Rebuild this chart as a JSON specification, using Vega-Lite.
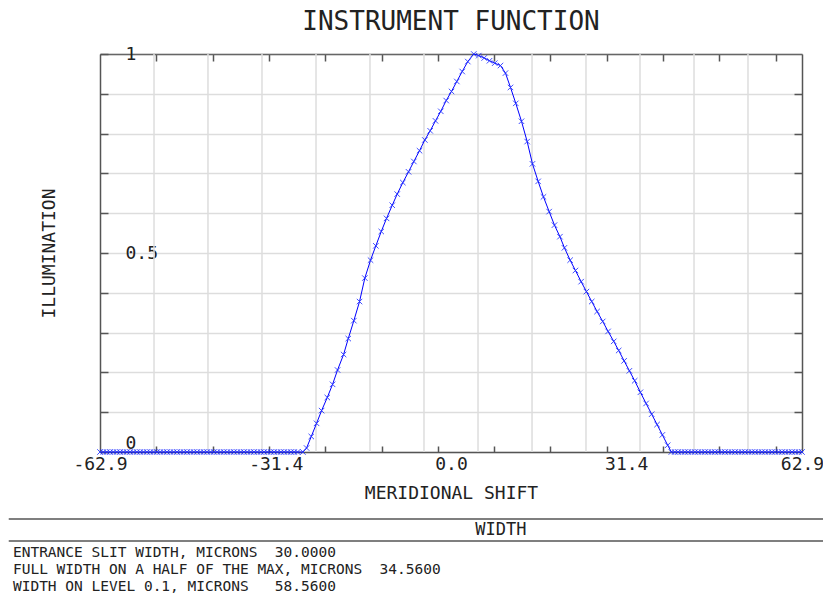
{
  "$schema": "https://vega.github.io/schema/vega-lite/v6.json",
  "padding": {"left": 7, "top": 9, "right": 0, "bottom": 0},
  "spacing": 16,
  "config": {"view": {"stroke": null}, "font": "DejaVu Sans Mono"},
  "datasets": {
    "vgrid": [{"g": -53.22}, {"g": -43.55}, {"g": -33.87}, {"g": -24.19}, {"g": -14.52}, {"g": -4.84}, {"g": 4.84}, {"g": 14.52}, {"g": 24.19}, {"g": 33.87}, {"g": 43.55}, {"g": 53.22}],
    "curve": [
      {"x": -62.9, "y": 0}, {"x": -62.3, "y": 0}, {"x": -61.7, "y": 0}, {"x": -61.1, "y": 0}, {"x": -60.5, "y": 0}, {"x": -59.9, "y": 0}, {"x": -59.3, "y": 0}, {"x": -58.7, "y": 0}, {"x": -58.1, "y": 0}, {"x": -57.5, "y": 0},
      {"x": -56.9, "y": 0}, {"x": -56.3, "y": 0}, {"x": -55.7, "y": 0}, {"x": -55.1, "y": 0}, {"x": -54.5, "y": 0}, {"x": -53.9, "y": 0}, {"x": -53.3, "y": 0}, {"x": -52.7, "y": 0}, {"x": -52.1, "y": 0}, {"x": -51.5, "y": 0},
      {"x": -50.9, "y": 0}, {"x": -50.3, "y": 0}, {"x": -49.7, "y": 0}, {"x": -49.1, "y": 0}, {"x": -48.5, "y": 0}, {"x": -47.9, "y": 0}, {"x": -47.3, "y": 0}, {"x": -46.7, "y": 0}, {"x": -46.1, "y": 0}, {"x": -45.5, "y": 0},
      {"x": -44.9, "y": 0}, {"x": -44.3, "y": 0}, {"x": -43.7, "y": 0}, {"x": -43.1, "y": 0}, {"x": -42.5, "y": 0}, {"x": -41.9, "y": 0}, {"x": -41.3, "y": 0}, {"x": -40.7, "y": 0}, {"x": -40.1, "y": 0}, {"x": -39.5, "y": 0},
      {"x": -38.9, "y": 0}, {"x": -38.3, "y": 0}, {"x": -37.7, "y": 0}, {"x": -37.1, "y": 0}, {"x": -36.5, "y": 0}, {"x": -35.9, "y": 0}, {"x": -35.3, "y": 0}, {"x": -34.7, "y": 0}, {"x": -34.1, "y": 0}, {"x": -33.5, "y": 0},
      {"x": -32.9, "y": 0}, {"x": -32.3, "y": 0}, {"x": -31.7, "y": 0}, {"x": -31.1, "y": 0}, {"x": -30.5, "y": 0}, {"x": -29.9, "y": 0}, {"x": -29.3, "y": 0}, {"x": -28.7, "y": 0}, {"x": -28.1, "y": 0}, {"x": -27.5, "y": 0},
      {"x": -26.54, "y": 0}, {"x": -25.88, "y": 0.010}, {"x": -25.04, "y": 0.039}, {"x": -24.09, "y": 0.072}, {"x": -23.19, "y": 0.104}, {"x": -22.17, "y": 0.137}, {"x": -21.22, "y": 0.170}, {"x": -20.33, "y": 0.206}, {"x": -19.25, "y": 0.245}, {"x": -18.41, "y": 0.285},
      {"x": -17.41, "y": 0.330}, {"x": -16.39, "y": 0.378}, {"x": -15.44, "y": 0.437}, {"x": -14.42, "y": 0.482}, {"x": -13.47, "y": 0.518}, {"x": -12.50, "y": 0.554}, {"x": -11.55, "y": 0.587}, {"x": -10.53, "y": 0.620}, {"x": -9.64, "y": 0.648}, {"x": -8.63, "y": 0.677},
      {"x": -7.61, "y": 0.704}, {"x": -6.66, "y": 0.730}, {"x": -5.64, "y": 0.757}, {"x": -4.69, "y": 0.784}, {"x": -3.73, "y": 0.807}, {"x": -2.78, "y": 0.832}, {"x": -1.83, "y": 0.856}, {"x": -0.86, "y": 0.883}, {"x": 0.09, "y": 0.906}, {"x": 1.04, "y": 0.931},
      {"x": 2.01, "y": 0.956}, {"x": 3.01, "y": 0.981}, {"x": 4.08, "y": 1.0}, {"x": 4.98, "y": 0.996}, {"x": 5.95, "y": 0.990}, {"x": 6.90, "y": 0.983}, {"x": 7.84, "y": 0.977}, {"x": 8.87, "y": 0.971}, {"x": 9.76, "y": 0.952}, {"x": 10.66, "y": 0.916},
      {"x": 11.61, "y": 0.876}, {"x": 12.63, "y": 0.831}, {"x": 13.65, "y": 0.780}, {"x": 14.60, "y": 0.724}, {"x": 15.62, "y": 0.680}, {"x": 16.57, "y": 0.641}, {"x": 17.59, "y": 0.604}, {"x": 18.54, "y": 0.570}, {"x": 19.52, "y": 0.541}, {"x": 20.33, "y": 0.513},
      {"x": 21.35, "y": 0.482}, {"x": 22.30, "y": 0.456}, {"x": 23.32, "y": 0.428}, {"x": 24.27, "y": 0.403}, {"x": 25.22, "y": 0.378}, {"x": 26.18, "y": 0.353}, {"x": 27.19, "y": 0.328}, {"x": 28.15, "y": 0.303}, {"x": 29.16, "y": 0.278}, {"x": 30.05, "y": 0.255},
      {"x": 31.02, "y": 0.229}, {"x": 31.97, "y": 0.204}, {"x": 32.92, "y": 0.179}, {"x": 33.94, "y": 0.150}, {"x": 34.96, "y": 0.122}, {"x": 35.96, "y": 0.095}, {"x": 36.93, "y": 0.069}, {"x": 37.88, "y": 0.043}, {"x": 38.83, "y": 0.017}, {"x": 39.49, "y": 0},
      {"x": 40.1, "y": 0}, {"x": 40.7, "y": 0}, {"x": 41.3, "y": 0}, {"x": 41.9, "y": 0}, {"x": 42.5, "y": 0}, {"x": 43.1, "y": 0}, {"x": 43.7, "y": 0}, {"x": 44.3, "y": 0}, {"x": 44.9, "y": 0}, {"x": 45.5, "y": 0},
      {"x": 46.1, "y": 0}, {"x": 46.7, "y": 0}, {"x": 47.3, "y": 0}, {"x": 47.9, "y": 0}, {"x": 48.5, "y": 0}, {"x": 49.1, "y": 0}, {"x": 49.7, "y": 0}, {"x": 50.3, "y": 0}, {"x": 50.9, "y": 0}, {"x": 51.5, "y": 0},
      {"x": 52.1, "y": 0}, {"x": 52.7, "y": 0}, {"x": 53.3, "y": 0}, {"x": 53.9, "y": 0}, {"x": 54.5, "y": 0}, {"x": 55.1, "y": 0}, {"x": 55.7, "y": 0}, {"x": 56.3, "y": 0}, {"x": 56.9, "y": 0}, {"x": 57.5, "y": 0},
      {"x": 58.1, "y": 0}, {"x": 58.7, "y": 0}, {"x": 59.3, "y": 0}, {"x": 59.9, "y": 0}, {"x": 60.5, "y": 0}, {"x": 61.1, "y": 0}, {"x": 61.7, "y": 0}, {"x": 62.3, "y": 0}, {"x": 62.9, "y": 0}
    ]
  },
  "vconcat": [
    {
      "width": 702,
      "height": 398,
      "title": {"text": "INSTRUMENT FUNCTION", "font": "DejaVu Sans Mono", "fontSize": 26, "fontWeight": "normal", "color": "#222222", "anchor": "middle", "frame": "group", "offset": 10},
      "layer": [
        {
          "data": {"name": "vgrid"},
          "mark": {"type": "rule", "color": "#dddddd", "strokeWidth": 1.5},
          "encoding": {
            "x": {
              "field": "g", "type": "quantitative",
              "scale": {"domain": [-62.9, 62.9], "nice": false, "zero": false},
              "axis": {
                "orient": "bottom", "values": [-62.9, -31.4, 0, 31.4, 62.9],
                "labelExpr": "datum.value < -50 ? '-62.9' : datum.value < -20 ? '-31.4' : datum.value < 10 ? '0.0' : datum.value < 40 ? '31.4' : '62.9'",
                "grid": false, "ticks": false, "domain": false,
                "labelFlush": false, "labelOverlap": false,
                "labelFont": "DejaVu Sans Mono", "labelFontSize": 18, "labelColor": "#222222", "labelPadding": 3,
                "title": "MERIDIONAL SHIFT", "titleFont": "DejaVu Sans Mono", "titleFontSize": 18, "titleFontWeight": "normal", "titleColor": "#222222", "titlePadding": 11
              }
            }
          }
        },
        {
          "data": {"name": "curve"},
          "mark": {"type": "line", "color": "#0000ff", "strokeWidth": 1},
          "encoding": {
            "x": {
              "field": "x", "type": "quantitative",
              "axis": {
                "orient": "bottom", "values": [-52.81, -42.72, -32.63, -22.54, -12.45, -2.36, 7.73, 17.82, 27.91, 38.0, 48.09, 58.18],
                "labels": false, "grid": false, "title": null,
                "domain": true, "domainColor": "#555555", "domainWidth": 1.5,
                "ticks": true, "tickSize": -6, "tickColor": "#555555", "tickWidth": 1.5
              }
            },
            "y": {
              "field": "y", "type": "quantitative",
              "scale": {"domain": [0, 1], "nice": false, "zero": false},
              "axis": {
                "orient": "left", "values": [0, 0.1, 0.2, 0.3, 0.4, 0.5, 0.6, 0.7, 0.8, 0.9, 1],
                "labelExpr": "datum.value === 0 ? '0' : datum.value === 0.5 ? '0.5' : datum.value === 1 ? '1' : ''",
                "grid": true, "gridColor": "#dddddd", "gridWidth": 1.5,
                "domain": true, "domainColor": "#555555", "domainWidth": 1.5,
                "ticks": true, "tickSize": -8, "tickColor": "#555555", "tickWidth": 1.5,
                "labelAlign": "left", "labelPadding": -17,
                "labelBaseline": {"condition": {"test": "datum.value === 0", "value": "bottom"}, "value": "middle"},
                "labelFlush": false, "labelOverlap": false,
                "labelFont": "DejaVu Sans Mono", "labelFontSize": 18, "labelColor": "#222222",
                "title": "ILLUMINATION", "titleFont": "DejaVu Sans Mono", "titleFontSize": 18, "titleFontWeight": "normal", "titleColor": "#222222", "titlePadding": 41
              }
            }
          }
        },
        {
          "data": {"name": "curve"},
          "mark": {"type": "point", "shape": "M-1,-1L1,1M-1,1L1,-1", "size": 30, "filled": false, "color": "#2030ff", "strokeWidth": 1, "opacity": 0.85},
          "encoding": {
            "x": {
              "field": "x", "type": "quantitative",
              "axis": {
                "orient": "top", "values": [-52.81, -42.72, -32.63, -22.54, -12.45, -2.36, 7.73, 17.82, 27.91, 38.0, 48.09, 58.18],
                "labels": false, "grid": false, "title": null,
                "domain": true, "domainColor": "#666666", "domainWidth": 1.5,
                "ticks": true, "tickSize": -7, "tickColor": "#555555", "tickWidth": 1.5
              }
            },
            "y": {
              "field": "y", "type": "quantitative",
              "axis": {
                "orient": "right", "values": [0.1, 0.2, 0.3, 0.4, 0.5, 0.6, 0.7, 0.8, 0.9],
                "labels": false, "grid": false, "title": null,
                "domain": true, "domainColor": "#555555", "domainWidth": 1.5,
                "ticks": true, "tickSize": -8, "tickColor": "#555555", "tickWidth": 1.5
              }
            }
          }
        }
      ],
      "resolve": {"axis": {"x": "independent", "y": "independent"}}
    },
    {
      "width": 702,
      "height": 78,
      "layer": [
        {
          "data": {"values": [{"row": 0, "from": -0.13, "to": 1.03}, {"row": 1.34, "from": -0.13, "to": 1.03}]},
          "mark": {"type": "rule", "color": "#555555", "strokeWidth": 1.5},
          "encoding": {
            "x": {"field": "from", "type": "quantitative", "scale": {"domain": [0, 1], "nice": false, "zero": false}, "axis": null},
            "x2": {"field": "to"},
            "y": {"field": "row", "type": "quantitative", "scale": {"domain": [0, 4.75], "reverse": true, "nice": false, "zero": false}, "axis": null}
          }
        },
        {
          "data": {"values": [{"row": 0.67, "col": 0.571, "text": "WIDTH"}]},
          "mark": {"type": "text", "align": "center", "baseline": "middle", "font": "DejaVu Sans Mono", "fontSize": 17, "color": "#222222"},
          "encoding": {
            "x": {"field": "col", "type": "quantitative", "axis": null},
            "y": {"field": "row", "type": "quantitative", "axis": null},
            "text": {"field": "text"}
          }
        },
        {
          "data": {"values": [
            {"row": 2.07, "col": -0.124, "text": "ENTRANCE SLIT WIDTH, MICRONS\u00a0\u00a030.0000"},
            {"row": 3.11, "col": -0.124, "text": "FULL WIDTH ON A HALF OF THE MAX, MICRONS\u00a0\u00a034.5600"},
            {"row": 4.15, "col": -0.124, "text": "WIDTH ON LEVEL 0.1, MICRONS\u00a0\u00a0\u00a058.5600"}
          ]},
          "mark": {"type": "text", "align": "left", "baseline": "middle", "font": "DejaVu Sans Mono", "fontSize": 14.5, "color": "#222222"},
          "encoding": {
            "x": {"field": "col", "type": "quantitative", "axis": null},
            "y": {"field": "row", "type": "quantitative", "axis": null},
            "text": {"field": "text"}
          }
        }
      ]
    }
  ]
}
